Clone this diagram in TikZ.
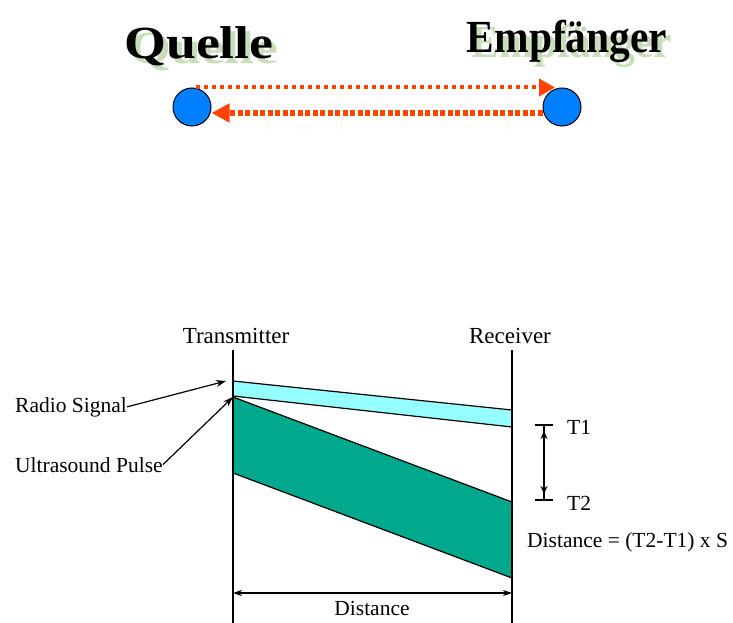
\documentclass[tikz,border=0pt]{standalone}
\usepackage{fontspec}
\setmainfont{Liberation Serif}
\newfontfamily\quellefont[FakeStretch=1.17]{Liberation Serif Bold}
\newfontfamily\empffont[FakeStretch=0.9]{Liberation Serif Bold}
\usetikzlibrary{arrows.meta,positioning,calc}
\definecolor{srcblue}{RGB}{0,128,255}
\definecolor{rayorange}{RGB}{255,68,0}
\definecolor{shadowgreen}{RGB}{200,222,186}
\definecolor{radiocyan}{RGB}{150,255,255}
\definecolor{soundteal}{RGB}{0,168,140}
\newcommand{\shadowed}[1]{\rlap{\kern5pt\raisebox{-5pt}{\textcolor{shadowgreen}{#1}}}#1}

\begin{document}
\begin{tikzpicture}[x=1pt,y=-1pt,
    station/.style={circle, draw, line width=1pt, fill=srcblue, minimum size=38pt, inner sep=0pt},
    headtext/.style={anchor=base, inner sep=0pt, font=\fontsize{46}{50}\selectfont},
    lbl/.style={inner sep=0pt, font=\fontsize{21.5}{25}\selectfont},
    pointer/.style={-{Stealth[length=10pt,width=7pt]}, line width=1.2pt},
    band/.style={line width=1.2pt}]
    \useasboundingbox (0,0) rectangle (733,623);

    % source and receiver
    \node[headtext] (quelle) at (199,59) {\quellefont\shadowed{Quelle}};
    \node[headtext] (empf) at (567,53) {\empffont\shadowed{Empfänger}};
    \node[station] (src) at (192,107) {};
    \node[station] (dst) at (562,107) {};

    \draw[rayorange, line width=4pt, dash pattern=on 3.5pt off 4.5pt,
          -{Triangle[length=16pt,width=17pt]}]
        ($(src.north)+(4,0)$) -- ($(dst.north)+(-7,0)$);
    \draw[rayorange, line width=6pt, dash pattern=on 5pt off 2.5pt,
          -{Triangle[length=18pt,width=18pt]}]
        ($(dst.west)+(0,6)$) -- ($(src.east)+(0,6)$);

    % timing diagram
    \coordinate (txtop) at (233,350);
    \coordinate (txbot) at (233,623);
    \coordinate (rxtop) at (512,350);
    \coordinate (rxbot) at (512,623);
    \coordinate (radiotip) at (226,381);
    \coordinate (soundtop) at (233,397);

    \fill[radiocyan] (233,381) -- (512,410) -- (512,427) -- (233,396) -- cycle;
    \draw[band] (233,381) -- (512,410);
    \draw[band] (233,396) -- (512,427);
    \fill[soundteal] (soundtop) -- (512,502) -- (512,578) -- (233,473) -- cycle;
    \draw[band] (soundtop) -- (512,502);
    \draw[band] (233,473) -- (512,578);

    \draw[line width=1.2pt] (txtop) -- (txbot);
    \draw[line width=1.2pt] (rxtop) -- (rxbot);

    \node[lbl, anchor=base, font=\fontsize{23}{27}\selectfont] (trans) at (236,343) {Transmitter};
    \node[lbl, anchor=base, font=\fontsize{23}{27}\selectfont] (recv) at (510,343) {Receiver};

    \node[lbl, anchor=base west] (radio) at (15,412) {Radio Signal};
    \node[lbl, anchor=base west] (pulse) at (15,472) {Ultrasound Pulse};
    \draw[pointer] (radio.east) -- (radiotip);
    \draw[pointer] (pulse.east) -- (soundtop);

    % time interval
    \coordinate (tonecap) at (544,425);
    \coordinate (ttwocap) at (544,500);
    \draw[line width=1.2pt] ($(tonecap)+(-9,0)$) -- ($(tonecap)+(9,0)$);
    \draw[line width=1.2pt] ($(ttwocap)+(-9,0)$) -- ($(ttwocap)+(9,0)$);
    \draw[line width=1.2pt, {Stealth[length=8pt,width=7pt]}-{Stealth[length=8pt,width=7pt]},
          shorten <=6pt, shorten >=6pt] (tonecap) -- (ttwocap);
    \draw[line width=1.2pt] (tonecap) -- (ttwocap);
    \node[lbl, anchor=west] (tone) at (567,427) {T1};
    \node[lbl, anchor=west] (ttwo) at (567,503) {T2};
    \node[lbl, anchor=base west] (formula) at (527,547) {Distance = (T2-T1) x S};

    % distance
    \coordinate (distl) at (233,593);
    \coordinate (distr) at (512,593);
    \draw[line width=1.2pt, {Stealth[length=9pt,width=6pt]}-{Stealth[length=9pt,width=6pt]}] (distl) -- (distr);
    \node[lbl, anchor=base] (dist) at (372,615) {Distance};
\end{tikzpicture}
\end{document}
